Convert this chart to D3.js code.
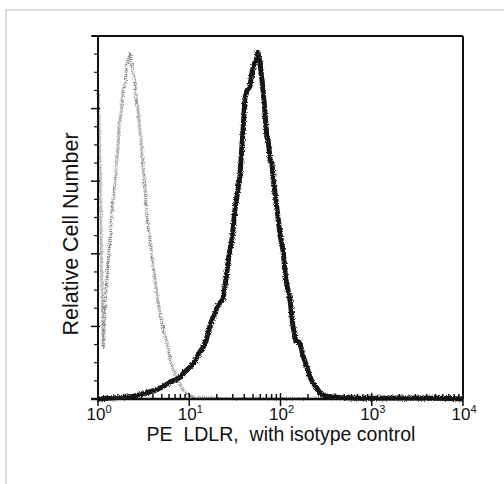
<!DOCTYPE html>
<html>
<head>
<meta charset="utf-8">
<script src="https://cdn.jsdelivr.net/npm/d3@7"></script>
<style>
  body { margin: 0; background: #fff; }
  text { font-family: "Liberation Sans", Arial, sans-serif; fill: #111; }
</style>
</head>
<body>
<svg id="chart" width="504" height="484"></svg>
<script>
// Histogram data: channel (0..1024 over 4 decades) and relative count (0..1)

// Isotype control (gray)
var isoChannel = [1, 6, 10, 13, 15, 20, 25, 31, 36, 42, 48, 53, 56, 59, 65, 70, 76, 81, 87, 90,
  93, 98, 104, 109, 112, 118, 123, 126, 132, 137, 146, 154, 163, 168, 177, 185, 194, 202, 210,
  219, 230, 238, 252, 267, 286, 370, 600, 1024];
var isoCount = [0.85, 0.62, 0.38, 0.22, 0.14, 0.27, 0.33, 0.41, 0.47, 0.55, 0.60, 0.66, 0.69, 0.75,
  0.79, 0.85, 0.87, 0.92, 0.94, 0.955, 0.93, 0.90, 0.87, 0.81, 0.80, 0.74, 0.69, 0.64, 0.58, 0.50,
  0.44, 0.37, 0.31, 0.27, 0.22, 0.185, 0.155, 0.11, 0.085, 0.06, 0.04, 0.025, 0.012, 0.006, 0.003,
  0.001, 0.001, 0];

// PE LDLR (black)
var ldlrChannel = [0, 34, 62, 90, 118, 146, 166, 188, 202, 216, 230, 244, 258, 269, 278, 286, 295,
  303, 309, 314, 320, 328, 334, 342, 351, 359, 368, 376, 384, 393, 398, 404, 407, 412, 418, 426,
  432, 440, 446, 449, 454, 460, 466, 469, 474, 477, 483, 488, 491, 499, 511, 519, 527, 539, 547,
  555, 567, 575, 586, 595, 603, 614, 623, 637, 651, 679, 735, 847, 959, 1024];
var ldlrCount = [0.0, 0.003, 0.004, 0.006, 0.012, 0.02, 0.026, 0.037, 0.047, 0.052, 0.06, 0.075,
  0.088, 0.10, 0.116, 0.13, 0.143, 0.16, 0.182, 0.20, 0.218, 0.235, 0.253, 0.265, 0.275, 0.33,
  0.40, 0.44, 0.52, 0.58, 0.612, 0.70, 0.74, 0.83, 0.85, 0.86, 0.90, 0.928, 0.94, 0.955, 0.93,
  0.88, 0.82, 0.78, 0.72, 0.715, 0.66, 0.65, 0.61, 0.55, 0.45, 0.41, 0.33, 0.27, 0.20, 0.16,
  0.155, 0.12, 0.088, 0.06, 0.044, 0.03, 0.016, 0.01, 0.006, 0.004, 0.002, 0.003, 0.002, 0.0];

var xDecades = [1, 10, 100, 1000, 10000];
var xTickExp = ["0", "1", "2", "3", "4"];
var yMajor = [0, 0.2, 0.4, 0.6, 0.8, 1.0];

var xTitle = "PE  LDLR,  with isotype control";
var yTitle = "Relative Cell Number";


var svg = d3.select("#chart");
var plotLeft = 98, plotRight = 463, plotTop = 36, plotBottom = 399;

// faint outer frame
svg.append("rect")
  .attr("x", 6).attr("y", 10).attr("width", 700).attr("height", 700)
  .attr("fill", "none").attr("stroke", "#dcdcdc").attr("stroke-width", 2);

var x = d3.scaleLog().domain([1, 10000]).range([plotLeft, plotRight]);
var y = d3.scaleLinear().domain([0, 1]).range([plotBottom, plotTop]);

function chToValue(ch) { return Math.pow(10, ch / 256); }

// grainy look of the scanned curves
var defs = svg.append("defs");
var f = defs.append("filter").attr("id", "grain")
  .attr("x", "-5%").attr("y", "-5%").attr("width", "110%").attr("height", "110%");
f.append("feTurbulence").attr("type", "fractalNoise").attr("baseFrequency", 0.9)
  .attr("numOctaves", 1).attr("seed", 3).attr("result", "noise");
f.append("feDisplacementMap").attr("in", "SourceGraphic").attr("in2", "noise")
  .attr("scale", 4).attr("xChannelSelector", "R").attr("yChannelSelector", "G");

var line = d3.line()
  .x(function (d) { return x(chToValue(d[0])); })
  .y(function (d) { return y(d[1]); });

var isoData = isoChannel.map(function (c, i) { return [c, isoCount[i]]; });
var ldlrData = ldlrChannel.map(function (c, i) { return [c, ldlrCount[i]]; });

svg.append("path")
  .datum(isoData)
  .attr("d", line)
  .attr("fill", "none")
  .attr("stroke", "#8c8c8c")
  .attr("stroke-width", 3)
  .attr("stroke-dasharray", "1.2 0.8")
  .attr("filter", "url(#grain)");

svg.append("path")
  .datum(ldlrData)
  .attr("d", line)
  .attr("fill", "none")
  .attr("stroke", "#141414")
  .attr("stroke-width", 5)
  .attr("stroke-linejoin", "round")
  .attr("filter", "url(#grain)");

// frame
var g = svg.append("g").attr("stroke", "#111").attr("fill", "none");
g.append("line").attr("x1", plotLeft - 6).attr("x2", plotRight).attr("y1", plotTop).attr("y2", plotTop).attr("stroke-width", 2);
g.append("line").attr("x1", plotRight).attr("x2", plotRight).attr("y1", plotTop).attr("y2", plotBottom).attr("stroke-width", 2);
g.append("line").attr("x1", plotLeft).attr("x2", plotLeft).attr("y1", plotTop).attr("y2", plotBottom + 3).attr("stroke-width", 2);
g.append("line").attr("x1", plotLeft - 7).attr("x2", plotRight).attr("y1", plotBottom).attr("y2", plotBottom).attr("stroke-width", 2.5);

// x axis: major ticks down, minor ticks up
var minor = [];
for (var d = 0; d < 4; d++) {
  for (var k = 2; k <= 9; k++) minor.push(k * xDecades[d]);
}
g.selectAll(".xminor").data(minor).enter().append("line")
  .attr("x1", function (v) { return x(v); }).attr("x2", function (v) { return x(v); })
  .attr("y1", plotBottom).attr("y2", plotBottom - 5).attr("stroke-width", 1.5);
g.selectAll(".xmajor").data(xDecades).enter().append("line")
  .attr("x1", function (v) { return x(v); }).attr("x2", function (v) { return x(v); })
  .attr("y1", plotBottom - 6).attr("y2", plotBottom + 7).attr("stroke-width", 1.5);

// y axis: major and minor ticks to the left
var yMinor = [];
for (var i = 0; i < yMajor.length - 1; i++) {
  for (var j = 1; j < 4; j++) yMinor.push(yMajor[i] + j * 0.05);
}
g.selectAll(".ymajor").data(yMajor).enter().append("line")
  .attr("x1", plotLeft - 7).attr("x2", plotLeft + 2)
  .attr("y1", function (v) { return y(v); }).attr("y2", function (v) { return y(v); })
  .attr("stroke-width", 1.5);
g.selectAll(".yminor").data(yMinor).enter().append("line")
  .attr("x1", plotLeft - 4).attr("x2", plotLeft + 1)
  .attr("y1", function (v) { return y(v); }).attr("y2", function (v) { return y(v); })
  .attr("stroke-width", 1.2);

// tick labels
var labels = svg.selectAll(".xlab").data(xDecades).enter().append("text")
  .attr("x", function (v) { return x(v) + 1; })
  .attr("y", 420)
  .attr("text-anchor", "middle")
  .style("font-size", "17px");
labels.append("tspan").text("10");
labels.append("tspan").attr("dy", -7).style("font-size", "11px")
  .text(function (v, i) { return xTickExp[i]; });

// axis titles
svg.append("text")
  .attr("x", 281).attr("y", 441)
  .attr("text-anchor", "middle")
  .style("font-size", "19.5px")
  .style("white-space", "pre")
  .text(xTitle);

svg.append("text")
  .attr("transform", "translate(78,234) rotate(-90)")
  .attr("text-anchor", "middle")
  .style("font-size", "21.5px")
  .text(yTitle);
</script>
</body>
</html>
